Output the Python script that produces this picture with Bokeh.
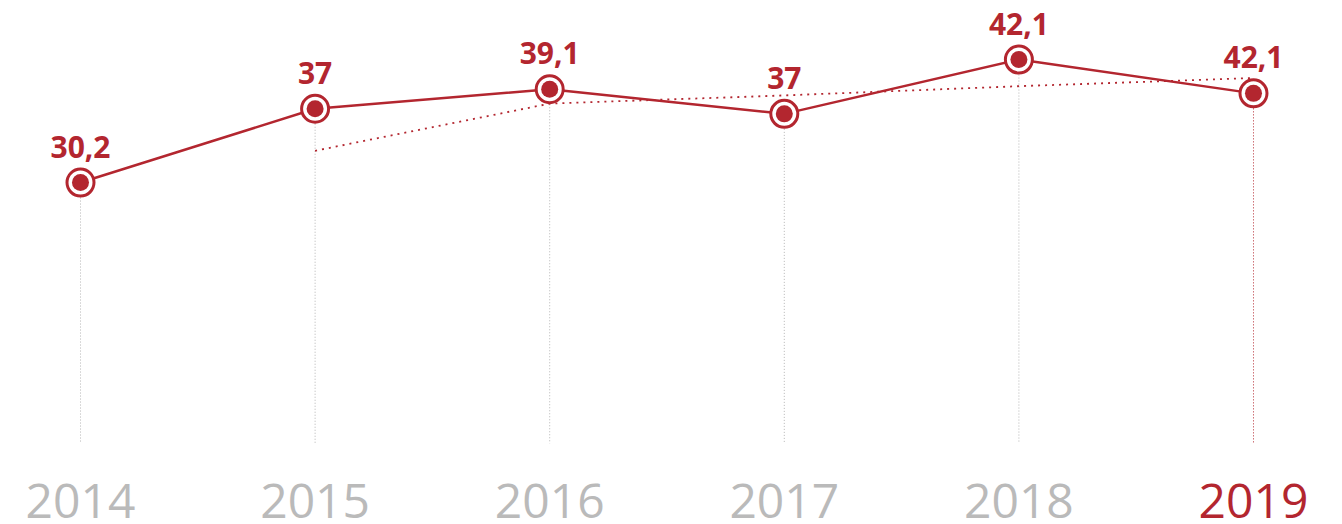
import numpy as np
from bokeh.plotting import figure
from bokeh.models import ColumnDataSource, Range1d, LabelSet
from bokeh.core.properties import value
from bokeh.embed import file_html
from bokeh.resources import INLINE

# ---- data ----
years = [2014, 2015, 2016, 2017, 2018, 2019]
year_labels = ["2014", "2015", "2016", "2017", "2018", "2019"]
values = [30.2, 37.4, 39.3, 36.9, 42.2, 38.9]
value_labels = ["30,2", "37", "39,1", "37", "42,1", "42,1"]
trend_years = [2015, 2016, 2017, 2018, 2019]
trend_values = [33.3, 37.9, 38.7, 39.6, 40.4]

# ---- style ----
RED = "#b3262f"
GREY_TEXT = "#bababa"
GREY_GUIDE = "#b4b4b4"
GUIDE_BOTTOM = 4.74
YEAR_BASE = -0.9

W, H = 1342, 524

p = figure(width=W, height=H, output_backend="svg", toolbar_location=None,
           x_range=Range1d(2013.659, 2019.3794), y_range=Range1d(-3.161, 47.96),
           x_axis_type=None, y_axis_type=None,
           min_border=0, min_border_left=0, min_border_right=0,
           min_border_top=0, min_border_bottom=0)
p.grid.visible = False
p.outline_line_color = None
p.background_fill_color = "white"
p.border_fill_color = "white"

guide_colors = [GREY_GUIDE] * (len(years) - 1) + [RED]
p.segment(x0=years, y0=values, x1=years, y1=[GUIDE_BOTTOM] * len(years),
          line_color=guide_colors, line_width=1, line_dash="1 2")

p.line(trend_years, trend_values, line_color=RED, line_width=1.8, line_dash="2 5")

p.line(years, values, line_color=RED, line_width=2.5)

p.scatter(years, values, size=27, fill_color="white", line_color=RED, line_width=3)
p.scatter(years, values, size=17, fill_color=RED, line_color=None)

src = ColumnDataSource(dict(x=years, y=values, t=value_labels))
p.add_layout(LabelSet(x="x", y="y", text="t", source=src, y_offset=25,
                      text_align="center", text_baseline="alphabetic",
                      text_font=value("Open Sans"), text_font_style="bold",
                      text_font_size="30px", text_color=RED))

year_colors = [GREY_TEXT] * (len(years) - 1) + [RED]
ysrc = ColumnDataSource(dict(x=years, t=year_labels, c=year_colors))
p.text(x="x", y=YEAR_BASE, text="t", source=ysrc, text_color="c",
       text_align="center", text_baseline="alphabetic",
       text_font=value("Open Sans"), text_font_size="48px")

open("out.html", "w").write(file_html(p, INLINE))
